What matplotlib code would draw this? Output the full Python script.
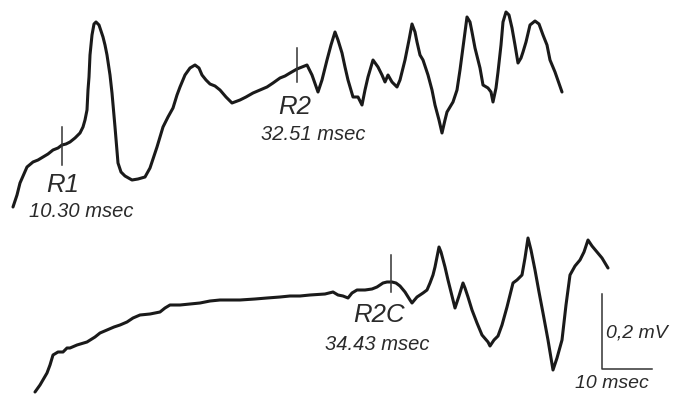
import matplotlib
matplotlib.use("Agg")
import matplotlib.pyplot as plt

# Traces (time axis and amplitude in image units, y grows downward)
top_t = [13, 17, 20, 24, 27, 33, 38, 43, 48, 53, 58, 62, 66, 70, 75, 80, 83, 85, 87, 88, 89, 90, 92, 94, 96, 99,
         103, 105, 107, 110, 112, 115, 118, 121, 125, 132, 138, 145, 150, 157, 163, 168, 173, 177, 180, 185, 190,
         195, 199, 202, 206, 210, 215, 220, 226, 232, 240, 246, 253, 260, 267, 273, 280, 285, 290, 297, 302, 307,
         312, 318, 322, 327, 331, 335, 338, 342, 345, 348, 353, 358, 362, 365, 368, 373, 378, 382, 385, 388, 392,
         397, 400, 402, 405, 409, 412, 415, 417, 420, 423, 428, 432, 435, 439, 442, 445, 447, 453, 457, 460, 464,
         467, 470, 472, 475, 480, 483, 488, 491, 493, 496, 498, 501, 503, 506, 509, 512, 515, 518, 521, 523, 526,
         530, 535, 539, 543, 547, 550, 555, 562]
top_v = [207, 195, 183, 174, 167, 162, 160, 157, 154, 150, 148, 145, 144, 142, 138, 133, 127, 120, 110, 90, 77, 55,
         35, 24, 22, 25, 37, 45, 55, 75, 93, 127, 163, 172, 176, 180, 179, 177, 168, 147, 127, 117, 108, 95, 87, 75,
         68, 65, 68, 75, 80, 84, 86, 90, 97, 103, 100, 97, 93, 90, 87, 83, 78, 76, 73, 69, 67, 65, 75, 92, 80, 60, 45,
         32, 40, 53, 67, 80, 97, 97, 105, 90, 77, 60, 67, 75, 82, 75, 82, 87, 80, 72, 60, 40, 24, 32, 42, 55, 60, 75,
         90, 105, 120, 133, 120, 112, 102, 90, 70, 40, 17, 22, 32, 48, 68, 85, 88, 92, 102, 88, 72, 45, 22, 12, 15,
         28, 45, 63, 58, 52, 42, 25, 21, 24, 35, 45, 60, 72, 92]

bot_t = [35, 40, 47, 50, 53, 58, 63, 67, 70, 77, 87, 95, 100, 107, 114, 120, 127, 133, 140, 150, 160, 165, 170,
         180, 190, 200, 205, 210, 220, 240, 255, 267, 280, 290, 300, 310, 325, 333, 338, 343, 348, 352, 357, 365,
         372, 377, 383, 387, 392, 396, 400, 405, 410, 412, 417, 423, 427, 430, 433, 435, 437, 439, 441, 445, 448,
         450, 453, 455, 459, 463, 465, 468, 472, 477, 482, 488, 490, 494, 498, 502, 507, 510, 513, 517, 522, 525,
         528, 531, 535, 539, 543, 548, 553, 557, 562, 566, 570, 575, 580, 584, 588, 592, 597, 602, 608]
bot_v = [392, 385, 373, 365, 355, 352, 352, 348, 348, 345, 342, 337, 333, 330, 327, 325, 322, 318, 315, 314, 312,
         308, 305, 305, 304, 303, 302, 301, 300, 300, 299, 298, 297, 296, 296, 295, 294, 292, 295, 296, 298, 293,
         290, 290, 289, 287, 283, 282, 282, 283, 286, 292, 300, 303, 297, 293, 290, 283, 275, 267, 257, 247, 252,
         267, 280, 288, 300, 308, 296, 283, 288, 297, 310, 323, 335, 342, 346, 340, 336, 325, 307, 295, 283, 280,
         275, 258, 238, 250, 270, 292, 313, 340, 370, 358, 340, 305, 275, 266, 260, 252, 240, 246, 252, 258, 268]

# Latency markers
marker_t = [62, 297, 391]
marker_y0 = [127, 48, 255]
marker_y1 = [165, 82, 292]
marker_names = ["R1", "R2", "R2C"]
marker_lat = ["10.30 msec", "32.51 msec", "34.43 msec"]

W, H = 675, 394
fig = plt.figure(figsize=(W / 100, H / 100), dpi=100)
ax = fig.add_axes([0, 0, 1, 1])
ax.set_xlim(0, W)
ax.set_ylim(H, 0)
ax.axis("off")

trace_kw = dict(color="#1a1a1a", lw=2.2, solid_joinstyle="round", solid_capstyle="round")
ax.plot(top_t, top_v, **trace_kw)
ax.plot(bot_t, bot_v, **trace_kw)

for t, y0, y1 in zip(marker_t, marker_y0, marker_y1):
    ax.plot([t, t], [y0, y1], color="#333333", lw=1.1)

fam = ["Liberation Sans", "DejaVu Sans"]
name_pos = [(63, 185), (295, 107), (379, 315)]
lat_pos = [(81, 211), (313, 135), (377, 345)]
for (x, y), s in zip(name_pos, marker_names):
    ax.text(x, y, s, fontsize=18.5, style="italic", family=fam, color="#2a2a2a",
            ha="center", va="center")
for (x, y), s in zip(lat_pos, marker_lat):
    ax.text(x, y, s, fontsize=14.5, style="italic", family=fam, color="#2a2a2a",
            ha="center", va="center")

# scale bar
ax.plot([602, 602, 652], [294, 369, 369], color="#333333", lw=1.1)
ax.text(606, 333, "0,2 mV", fontsize=14, style="italic", family=fam, color="#2a2a2a",
        ha="left", va="center")
ax.text(612, 383, "10 msec", fontsize=14, style="italic", family=fam, color="#2a2a2a",
        ha="center", va="center")

fig.savefig("out.png", dpi=100, facecolor="white")
